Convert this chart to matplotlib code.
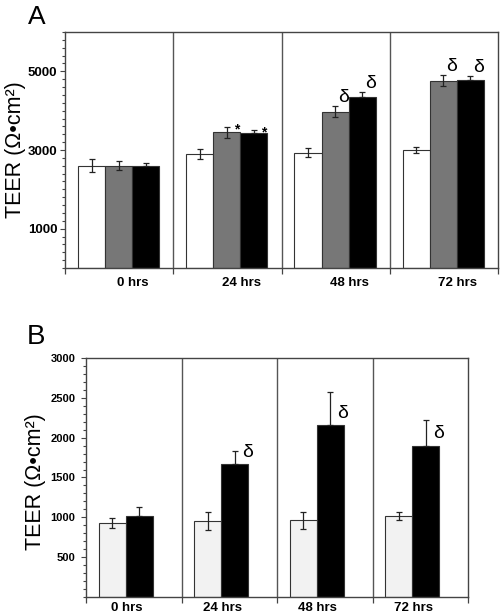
import numpy as np
import matplotlib.pyplot as plt
from matplotlib.ticker import FixedLocator, MultipleLocator
import matplotlib.transforms as mtransforms

plt.rcParams['font.family'] = ['Liberation Sans', 'DejaVu Sans']

# Panel A data
groups = ['0 hrs', '24 hrs', '48 hrs', '72 hrs']
a_white = [2600, 2900, 2930, 3000]
a_white_err = [165, 130, 110, 70]
a_gray = [2600, 3450, 3970, 4760]
a_gray_err = [120, 135, 140, 140]
a_black = [2600, 3430, 4350, 4790]
a_black_err = [75, 85, 115, 90]
a_gray_marks = ['', '*', 'δ', 'δ']
a_black_marks = ['', '*', 'δ', 'δ']

# Panel B data
b_light = [923, 952, 961, 1019]
b_light_err = [65, 115, 110, 52]
b_black = [1011, 1666, 2160, 1900]
b_black_err = [113, 167, 420, 322]
b_black_marks = ['', 'δ', 'δ', 'δ']

edge = '#333333'
spine_c = '#444444'
ylab = 'TEER (Ω•cm²)'

fig = plt.figure(figsize=(5.0, 6.14), dpi=100)
axA = fig.add_axes([0.13, 0.5635, 0.866, 0.3844])
axB = fig.add_axes([0.172, 0.0282, 0.764, 0.3883])

g = np.arange(len(groups))
ekw = dict(ecolor='#222222', elinewidth=0.9, capsize=2.5, capthick=0.9)


def up_only(errs):
    # black bars hide the lower half of the error bar
    return [np.zeros(len(errs)), errs]


def style_axes(ax):
    for s in ax.spines.values():
        s.set_color(spine_c)
        s.set_linewidth(1.0)
    ax.set_xlim(0, 4)
    for sep in [1, 2, 3]:
        ax.axvline(sep, color='#555555', lw=1.0, zorder=1)
    ax.xaxis.set_major_locator(FixedLocator([0, 1, 2, 3, 4]))
    ax.set_xticklabels([])
    ax.tick_params(axis='x', direction='out', length=4.5, width=0.9, color=spine_c)
    ax.tick_params(axis='y', which='both', direction='out', width=0.8, color=spine_c)
    ax.tick_params(axis='y', which='major', length=3.5)
    ax.tick_params(axis='y', which='minor', length=2.2)


# ---- Panel A ----
w = 0.25
xa = [g + 0.245, g + 0.495, g + 0.745]
axA.bar(xa[0], a_white, w, color='white', edgecolor=edge, lw=0.8, zorder=2,
        yerr=a_white_err, error_kw=ekw)
axA.bar(xa[1], a_gray, w, color='#777777', edgecolor=edge, lw=0.8, zorder=2,
        yerr=a_gray_err, error_kw=ekw)
axA.bar(xa[2], a_black, w, color='black', edgecolor=edge, lw=0.8, zorder=2,
        yerr=up_only(a_black_err), error_kw=ekw)
style_axes(axA)
axA.set_ylim(0, 6000)
axA.yaxis.set_major_locator(FixedLocator([1000, 3000, 5000]))
axA.yaxis.set_minor_locator(MultipleLocator(200))
axA.tick_params(axis='y', labelsize=9.5, pad=2)
for lbl in axA.get_yticklabels():
    lbl.set_fontweight('bold')
axA.set_ylabel(ylab, fontsize=15.5)
axA.yaxis.set_label_coords(-0.09, 0.5)
transA = mtransforms.blended_transform_factory(axA.transData, axA.transAxes)
for i, name in enumerate(groups):
    axA.text(i + 0.63, -0.063, name, transform=transA, ha='center', va='center',
             fontsize=9.5, fontweight='bold')
for xs, vals, errs, marks in [(xa[1], a_gray, a_gray_err, a_gray_marks),
                              (xa[2], a_black, a_black_err, a_black_marks)]:
    for x, v, e, m in zip(xs, vals, errs, marks):
        if m == '*':
            axA.annotate(m, (x, v + e), xytext=(5, -2), textcoords='offset points',
                         ha='left', va='center', fontsize=10, fontweight='bold')
        elif m:
            axA.annotate(m, (x, v + e), xytext=(2, 0), textcoords='offset points',
                         ha='left', va='bottom', fontsize=14)

# ---- Panel B ----
wb = 0.283
xb = [g + 0.274, g + 0.557]
axB.bar(xb[0], b_light, wb, color='#f2f2f2', edgecolor=edge, lw=0.8, zorder=2,
        yerr=b_light_err, error_kw=ekw)
axB.bar(xb[1], b_black, wb, color='black', edgecolor=edge, lw=0.8, zorder=2,
        yerr=up_only(b_black_err), error_kw=ekw)
style_axes(axB)
axB.set_ylim(0, 3000)
axB.yaxis.set_major_locator(FixedLocator([500, 1000, 1500, 2000, 2500, 3000]))
axB.yaxis.set_minor_locator(MultipleLocator(100))
axB.tick_params(axis='y', labelsize=8, pad=4)
for lbl in axB.get_yticklabels():
    lbl.set_fontweight('bold')
axB.set_ylabel(ylab, fontsize=15.5)
axB.yaxis.set_label_coords(-0.105, 0.483)
transB = mtransforms.blended_transform_factory(axB.transData, axB.transAxes)
for i, name in enumerate(groups):
    axB.text(i + 0.425, -0.022, name, transform=transB, ha='center', va='top',
             fontsize=9.5, fontweight='bold')
for x, v, m in zip(xb[1], b_black, b_black_marks):
    if m:
        axB.annotate(m, (x, v + 150), xytext=(5, 0), textcoords='offset points',
                     ha='left', va='center', fontsize=14)

fig.text(0.056, 0.992, 'A', fontsize=19, ha='left', va='top')
fig.text(0.054, 0.472, 'B', fontsize=20, ha='left', va='top')

fig.savefig('out.png', dpi=100)
